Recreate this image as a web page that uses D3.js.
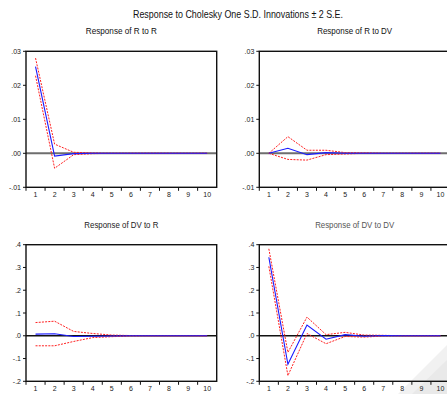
<!DOCTYPE html>
<html>
<head>
<meta charset="utf-8">
<script src="https://cdn.jsdelivr.net/npm/d3@7"></script>
<style>
  body { margin: 0; background: #fff; }
  svg { display: block; font-family: "Liberation Sans", Arial, sans-serif; }
</style>
</head>
<body>
<svg id="chart" width="447" height="394"></svg>
<script>
// periods on the x axis
const periods = [1, 2, 3, 4, 5, 6, 7, 8, 9, 10];

// Response of R to R
const rrResp  = [0.0255, -0.0008, -0.0001, 0, 0, 0, 0, 0, 0, 0];
const rrUpper = [0.0280, 0.0027, 0.0003, 0.0001, 0, 0, 0, 0, 0, 0];
const rrLower = [0.0228, -0.0044, -0.0004, -0.0001, 0, 0, 0, 0, 0, 0];

// Response of R to DV
const rdResp  = [0, 0.0015, -0.0004, 0.0002, 0, 0, 0, 0, 0, 0];
const rdUpper = [0, 0.0049, 0.0009, 0.0009, 0.0002, 0.0001, 0, 0, 0, 0];
const rdLower = [0, -0.0018, -0.0020, -0.0004, -0.0002, 0, 0, 0, 0, 0];

// Response of DV to R
const drResp  = [0.007, 0.009, -0.003, -0.002, -0.001, 0, 0, 0, 0, 0];
const drUpper = [0.058, 0.064, 0.019, 0.010, 0.003, 0.001, 0, 0, 0, 0];
const drLower = [-0.044, -0.044, -0.025, -0.008, -0.004, -0.001, 0, 0, 0, 0];

// Response of DV to DV
const ddResp  = [0.345, -0.125, 0.047, -0.015, 0.005, -0.002, 0.001, 0, 0, 0];
const ddUpper = [0.382, -0.073, 0.082, 0.005, 0.015, 0.003, 0.002, 0, 0, 0];
const ddLower = [0.305, -0.175, 0.010, -0.035, -0.003, -0.006, -0.001, 0, 0, 0];

const topTicks = [-0.01, 0, 0.01, 0.02, 0.03];
const topTickLabels = ["-.01", ".00", ".01", ".02", ".03"];
const botTicks = [-0.2, -0.1, 0, 0.1, 0.2, 0.3, 0.4];
const botTickLabels = ["-.2", "-.1", ".0", ".1", ".2", ".3", ".4"];

const svg = d3.select("#chart");

// faint page shadow in the bottom-right corner
svg.append("polygon")
    .attr("points", "398,394 447,345 447,394")
    .attr("fill", "#f1f1f1");
svg.append("polygon")
    .attr("points", "412,394 447,360 447,394")
    .attr("fill", "#e9e9e9");

svg.append("text")
    .attr("x", 238).attr("y", 18)
    .attr("text-anchor", "middle")
    .attr("font-size", 10.5)
    .attr("fill", "#111")
    .attr("textLength", 210).attr("lengthAdjust", "spacingAndGlyphs")
    .text("Response to Cholesky One S.D. Innovations \u00b1 2 S.E.");

const panels = [
    { title: "Response of R to R", tw: 71, x0: 26, y0: 51.3, h: 136, resp: rrResp, up: rrUpper, lo: rrLower,
      domain: [-0.01, 0.03], ticks: topTicks, labels: topTickLabels, zero: "#6e6e6e", zw: 2, tcol: "#111" },
    { title: "Response of R to DV", tw: 75, x0: 259.3, y0: 51.3, h: 136, resp: rdResp, up: rdUpper, lo: rdLower,
      domain: [-0.01, 0.03], ticks: topTicks, labels: topTickLabels, zero: "#6e6e6e", zw: 2, tcol: "#111" },
    { title: "Response of DV to R", tw: 74, x0: 26, y0: 244.7, h: 136.6, resp: drResp, up: drUpper, lo: drLower,
      domain: [-0.2, 0.4], ticks: botTicks, labels: botTickLabels, zero: "#111", zw: 1.3, tcol: "#222" },
    { title: "Response of DV to DV", tw: 79, x0: 259.3, y0: 244.7, h: 136.6, resp: ddResp, up: ddUpper, lo: ddLower,
      domain: [-0.2, 0.4], ticks: botTicks, labels: botTickLabels, zero: "#111", zw: 1.3, tcol: "#555" }
];

const W = 190.7;

panels.forEach(p => {
    const g = svg.append("g");
    const x = d3.scaleBand().domain(periods).range([p.x0, p.x0 + W]);
    const y = d3.scaleLinear().domain(p.domain).range([p.y0 + p.h, p.y0]);
    const cx = d => x(d) + x.bandwidth() / 2;

    g.append("text")
        .attr("x", p.x0 + W / 2).attr("y", p.y0 - 17)
        .attr("text-anchor", "middle")
        .attr("font-size", 9)
        .attr("fill", p.tcol)
        .attr("textLength", p.tw).attr("lengthAdjust", "spacingAndGlyphs")
        .text(p.title);

    // zero line
    g.append("line")
        .attr("x1", p.x0).attr("x2", p.x0 + W)
        .attr("y1", y(0)).attr("y2", y(0))
        .attr("stroke", p.zero).attr("stroke-width", p.zw);

    const line = d3.line().x((d, i) => cx(periods[i])).y(d => y(d));

    [p.up, p.lo].forEach(s => {
        g.append("path")
            .attr("d", line(s))
            .attr("fill", "none")
            .attr("stroke", "#ff2020")
            .attr("stroke-width", 1)
            .attr("stroke-dasharray", "2,1.2");
    });
    g.append("path")
        .attr("d", line(p.resp))
        .attr("fill", "none")
        .attr("stroke", "#1a1aff")
        .attr("stroke-width", 1.1);

    // frame
    g.append("rect")
        .attr("x", p.x0).attr("y", p.y0)
        .attr("width", W).attr("height", p.h)
        .attr("fill", "none")
        .attr("stroke", "#111")
        .attr("stroke-width", 1.4);

    // y ticks
    p.ticks.forEach((t, i) => {
        g.append("line")
            .attr("x1", p.x0 - 3).attr("x2", p.x0)
            .attr("y1", y(t)).attr("y2", y(t))
            .attr("stroke", "#111").attr("stroke-width", 1);
        g.append("text")
            .attr("x", p.x0 - 5).attr("y", y(t) + 2.5)
            .attr("text-anchor", "end")
            .attr("font-size", 7)
            .attr("fill", "#222")
            .text(p.labels[i]);
    });

    // x ticks at band edges, labels at centres
    periods.forEach(d => {
        g.append("line")
            .attr("x1", x(d)).attr("x2", x(d))
            .attr("y1", p.y0 + p.h).attr("y2", p.y0 + p.h + 3.5)
            .attr("stroke", "#111").attr("stroke-width", 1);
        g.append("text")
            .attr("x", cx(d)).attr("y", p.y0 + p.h + 10)
            .attr("text-anchor", "middle")
            .attr("font-size", 7)
            .attr("fill", "#222")
            .text(d);
    });
});
</script>
</body>
</html>
